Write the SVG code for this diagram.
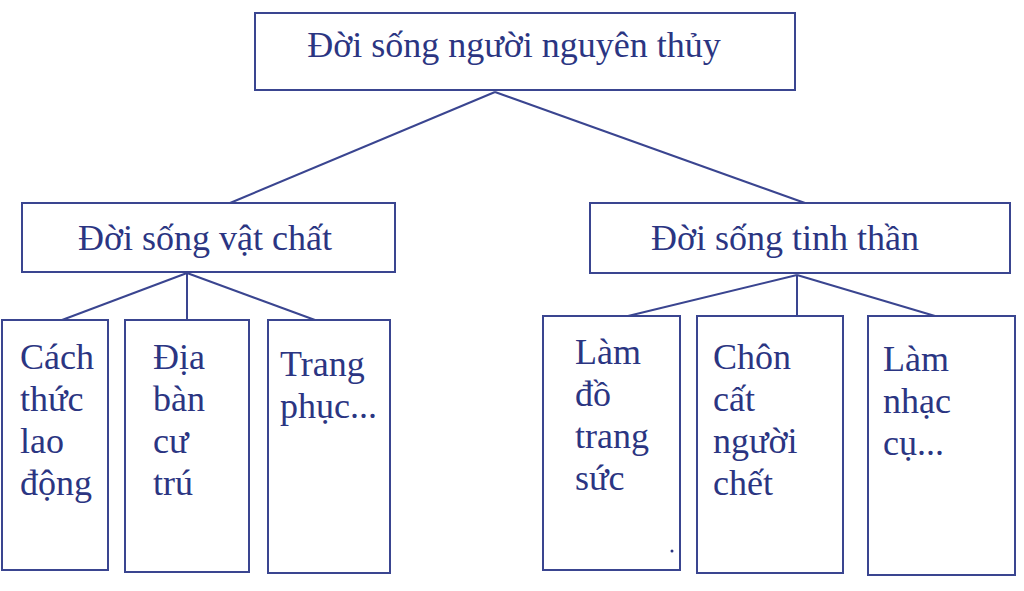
<svg xmlns="http://www.w3.org/2000/svg" width="1024" height="591" viewBox="0 0 1024 591">
<style>
rect{fill:#fff;stroke:#3a4590;stroke-width:2}
line{stroke:#3a4590;stroke-width:2}
text{font-family:"Liberation Serif",serif;font-size:36px;fill:#2b3582}
.c{text-anchor:middle}
</style>
<rect x="0" y="0" width="1024" height="591" style="stroke:none"/>
<g id="connectors">
<line x1="495" y1="92" x2="230" y2="203"/><line x1="495" y1="92" x2="805" y2="203"/>
<line x1="187" y1="273" x2="62" y2="320"/><line x1="187" y1="273" x2="187" y2="320"/><line x1="187" y1="273" x2="315" y2="320"/>
<line x1="797" y1="275" x2="628" y2="316"/><line x1="797" y1="275" x2="797" y2="316"/><line x1="797" y1="275" x2="935" y2="316"/>
</g>
<g id="root"><rect x="255" y="13" width="540" height="77"/><text class="c" x="514" y="57">Đời sống người nguyên thủy</text></g>
<g id="vatchat"><rect x="22" y="203" width="373" height="69"/><text class="c" x="205" y="250">Đời sống vật chất</text></g>
<g id="tinhthan"><rect x="590" y="203" width="420" height="70"/><text class="c" x="785" y="250">Đời sống tinh thần</text></g>
<g id="b1"><rect x="2" y="320" width="106" height="250"/><text x="20" y="369">Cách</text><text x="20" y="411">thức</text><text x="20" y="453">lao</text><text x="20" y="495">động</text></g>
<g id="b2"><rect x="125" y="320" width="124" height="252"/><text x="153" y="369">Địa</text><text x="153" y="411">bàn</text><text x="153" y="453">cư</text><text x="153" y="495">trú</text></g>
<g id="b3"><rect x="268" y="320" width="122" height="253"/><text x="280" y="376">Trang</text><text x="280" y="418">phục...</text></g>
<g id="b4"><rect x="543" y="316" width="137" height="254"/><text x="575" y="364">Làm</text><text x="575" y="406">đồ</text><text x="575" y="448">trang</text><text x="575" y="490">sức</text><circle cx="672" cy="551" r="1.5" fill="#2b3582"/></g>
<g id="b5"><rect x="697" y="316" width="146" height="257"/><text x="713" y="369">Chôn</text><text x="713" y="411">cất</text><text x="713" y="453">người</text><text x="713" y="495">chết</text></g>
<g id="b6"><rect x="868" y="316" width="147" height="259"/><text x="883" y="371">Làm</text><text x="883" y="413">nhạc</text><text x="883" y="455">cụ...</text></g>
</svg>
